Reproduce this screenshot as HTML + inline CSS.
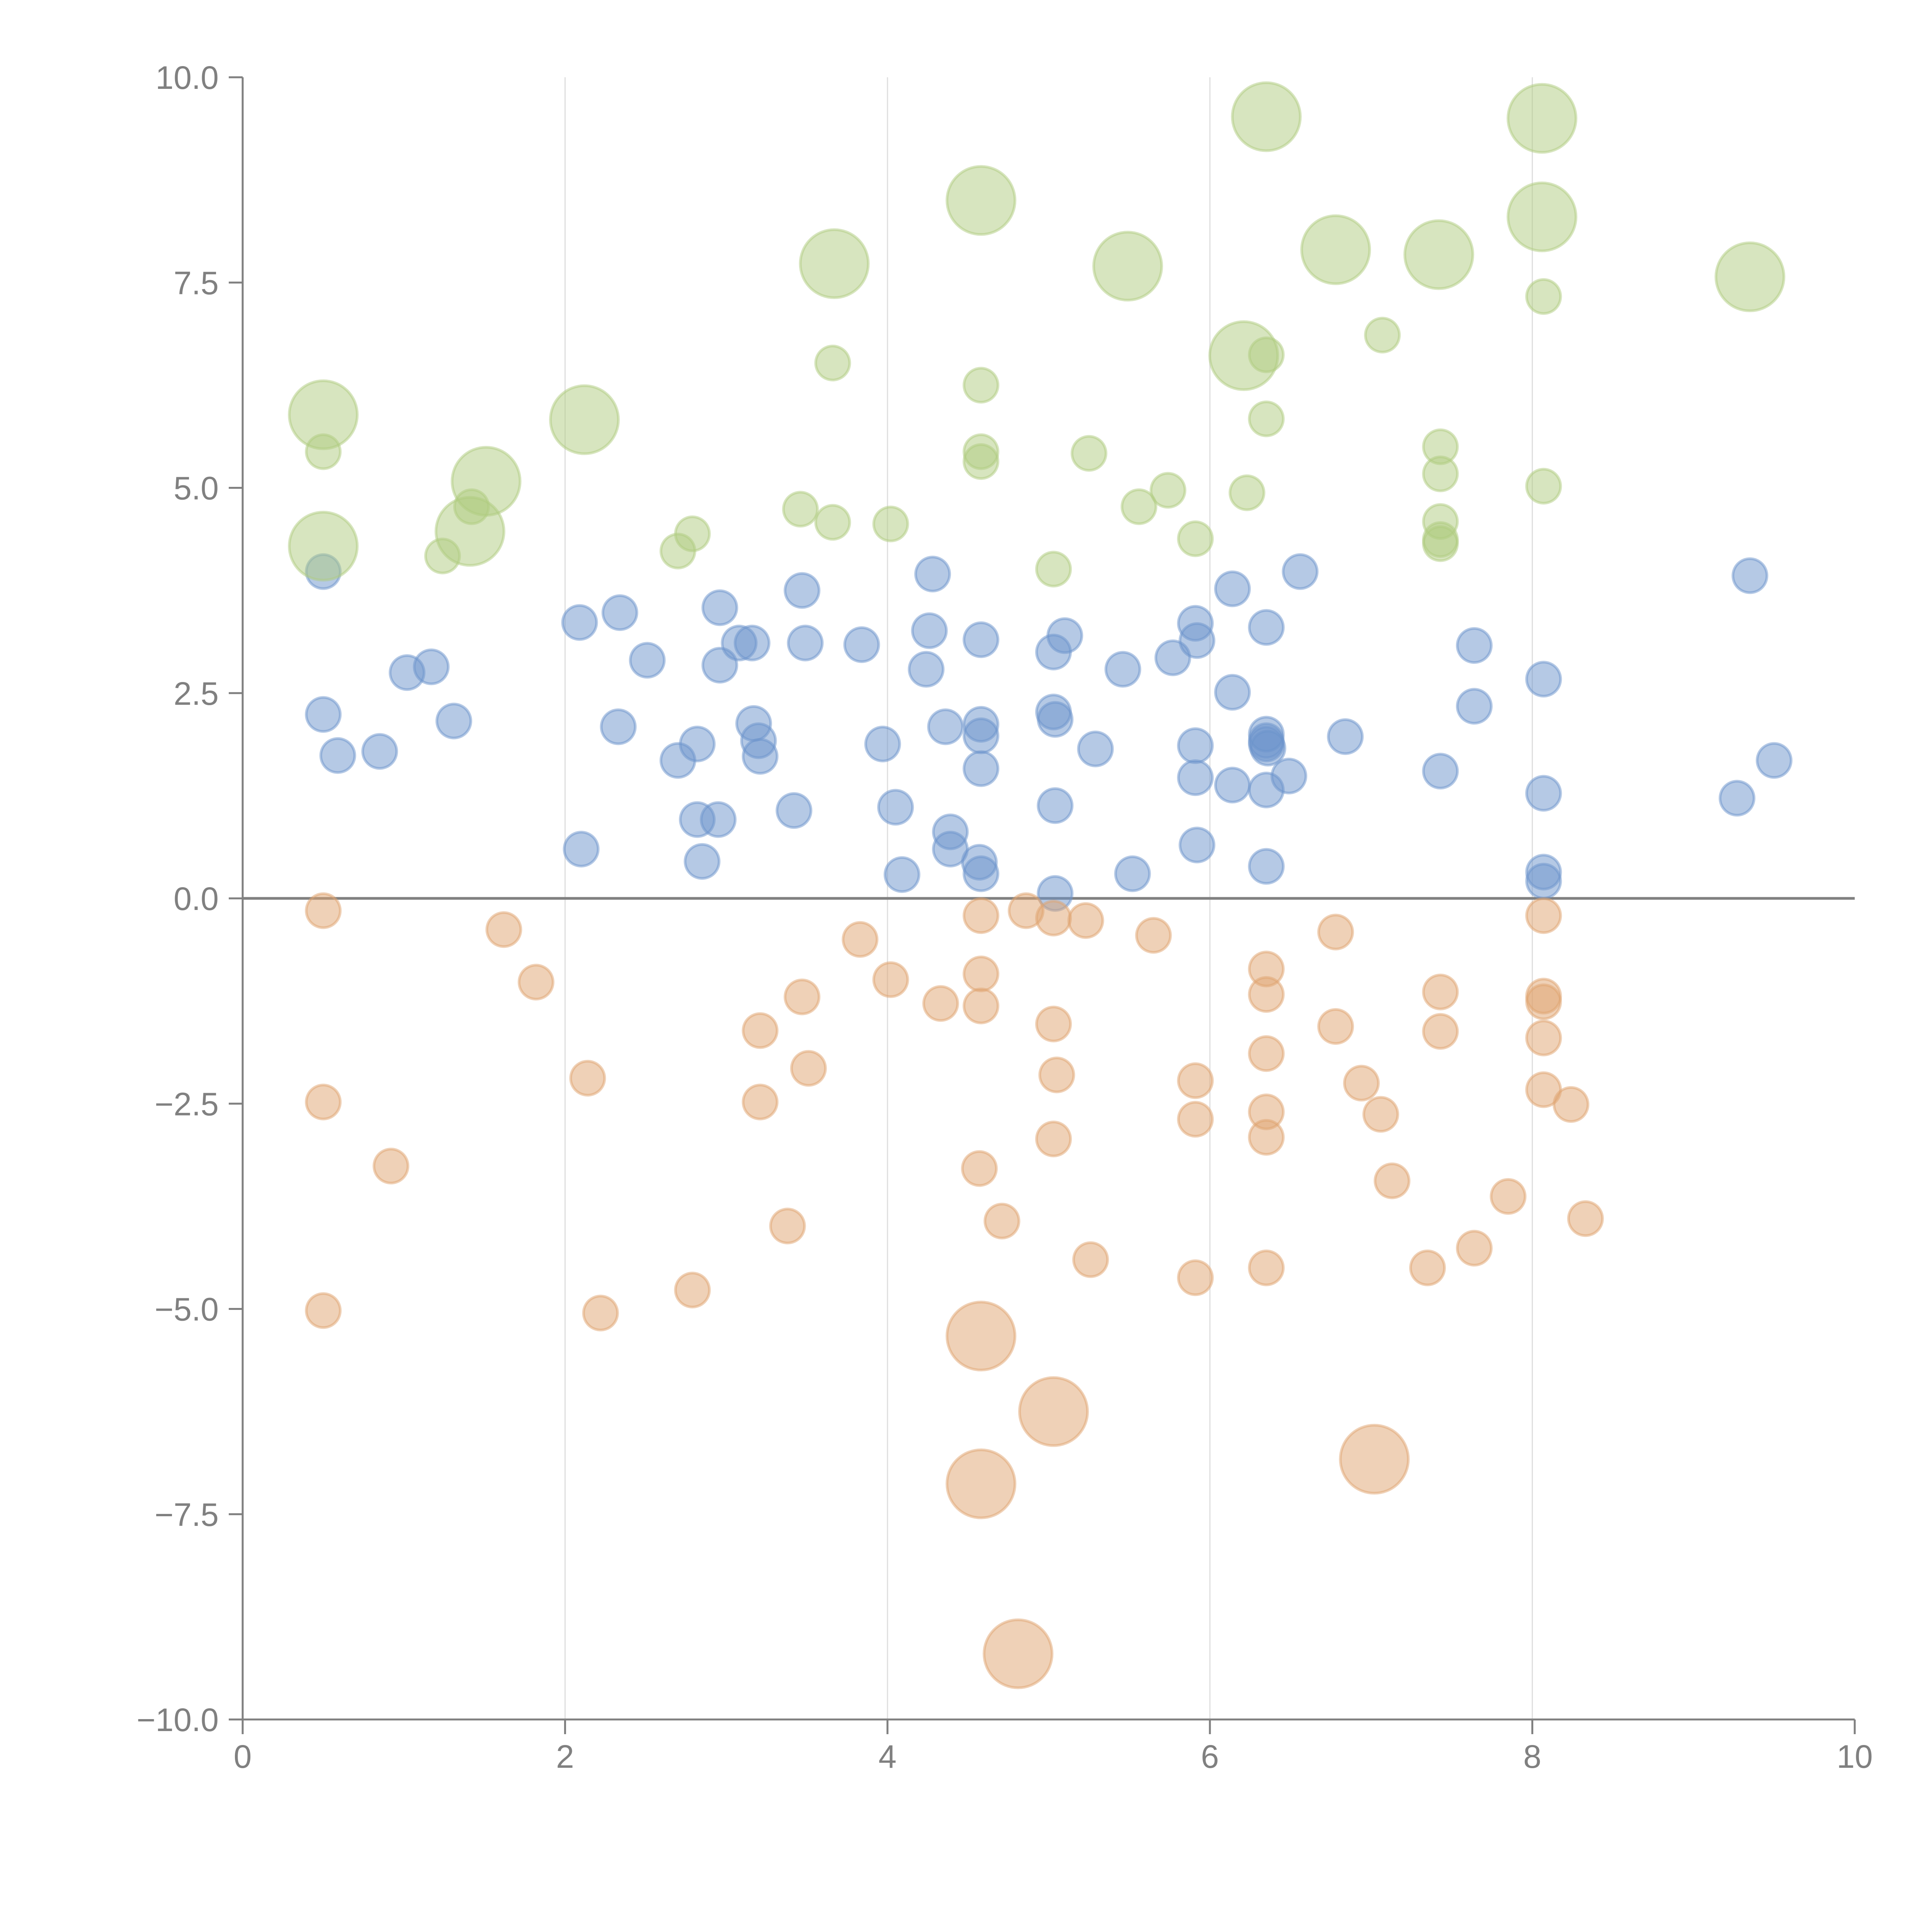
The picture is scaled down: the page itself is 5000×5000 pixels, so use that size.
<!DOCTYPE html>
<html><head><meta charset="utf-8"><style>html,body{margin:0;padding:0;background:#fff}svg{display:block}</style></head>
<body>
<svg id="chart" width="5000" height="5000" viewBox="0 0 5000 5000" xmlns="http://www.w3.org/2000/svg">
<g id="grid"></g>
<g id="marks"></g>
<g id="axes"></g>
</svg>
<script>
const xTicks=[0,2,4,6,8,10];
const xTickLabels=["0","2","4","6","8","10"];
const yTicks=[-10,-7.5,-5,-2.5,0,2.5,5,7.5,10];
const yTickLabels=["\u221210.0","\u22127.5","\u22125.0","\u22122.5","0.0","2.5","5.0","7.5","10.0"];
const greenLargeX=[0.50,0.50,1.51,1.41,2.12,3.67,4.58,5.49,6.21,6.35,6.78,7.42,8.06,8.06,9.35];
const greenLargeY=[5.89,4.29,5.08,4.47,5.83,7.73,8.50,7.70,6.61,9.52,7.90,7.84,9.50,8.30,7.57];
const greenSmallX=[0.50,1.42,1.24,2.79,2.70,3.46,3.66,3.66,4.02,4.58,4.58,4.58,5.25,5.03,5.56,5.74,5.91,6.23,6.35,6.35,7.07,7.43,7.43,7.43,7.43,7.43,8.07,8.07];
const greenSmallY=[5.44,4.77,4.17,4.44,4.23,4.74,4.58,6.52,4.56,6.25,5.44,5.32,5.42,4.01,4.77,4.97,4.38,4.94,6.62,5.84,6.86,5.50,5.17,4.59,4.37,4.32,7.33,5.02];
const blueX=[0.50,0.50,0.59,0.85,1.02,1.17,1.31,2.09,2.10,2.34,2.33,2.51,2.70,2.82,2.82,2.85,2.95,2.96,2.96,3.08,3.16,3.17,3.20,3.21,3.42,3.47,3.49,3.84,3.97,4.05,4.09,4.24,4.26,4.28,4.36,4.39,4.39,4.57,4.58,4.58,4.58,4.58,4.58,5.03,5.03,5.04,5.04,5.04,5.10,5.29,5.46,5.52,5.77,5.91,5.92,5.91,5.91,5.92,6.14,6.14,6.14,6.35,6.35,6.35,6.35,6.36,6.35,6.35,6.49,6.56,6.84,7.43,7.64,7.64,8.07,8.07,8.07,8.07,9.27,9.35,9.50];
const blueY=[3.98,2.24,1.74,1.79,2.75,2.82,2.16,3.36,0.60,3.48,2.09,2.90,1.68,1.88,0.96,0.45,0.96,3.54,2.84,3.11,3.11,2.13,1.92,1.73,1.07,3.75,3.11,3.09,1.88,1.11,0.29,2.79,3.26,3.95,2.09,0.81,0.60,0.44,2.12,1.98,3.15,1.58,0.30,3.00,2.27,2.18,1.13,0.06,3.20,1.82,2.79,0.30,2.93,3.35,3.14,1.86,1.47,0.65,3.77,2.51,1.38,3.30,2.00,1.92,1.88,1.83,1.32,0.39,1.49,3.98,1.97,1.55,3.08,2.34,2.67,1.28,0.32,0.21,1.22,3.93,1.68];
const orangeSmallX=[0.50,0.50,0.92,0.50,1.62,1.82,2.14,2.22,2.79,3.21,3.21,3.47,3.51,3.38,3.83,4.02,4.33,4.58,4.58,4.58,4.57,4.71,4.86,5.03,5.03,5.05,5.03,5.23,5.26,5.65,5.91,5.91,5.91,6.35,6.35,6.35,6.35,6.35,6.35,6.78,6.78,6.94,7.06,7.13,7.35,7.43,7.43,7.64,7.85,8.07,8.07,8.07,8.07,8.07,8.24,8.33];
const orangeSmallY=[-0.15,-2.48,-3.26,-5.02,-0.38,-1.02,-2.19,-5.05,-4.77,-1.61,-2.48,-1.20,-2.07,-3.99,-0.50,-0.99,-1.28,-0.21,-0.92,-1.31,-3.29,-3.93,-0.15,-0.24,-1.53,-2.15,-2.93,-0.27,-4.40,-0.45,-2.22,-2.69,-4.62,-0.86,-1.17,-1.89,-2.60,-2.91,-4.50,-0.41,-1.56,-2.25,-2.63,-3.44,-4.50,-1.14,-1.62,-4.26,-3.63,-0.21,-1.19,-1.26,-1.70,-2.33,-2.51,-3.90];
const orangeLargeX=[4.58,5.03,4.58,7.02,4.81];
const orangeLargeY=[-5.33,-6.25,-7.13,-6.83,-9.20];

const X0=628,X1=4800,Y0=4450,Y1=200;
function sx(v){return X0+(v-0)/(10-0)*(X1-X0);}
function sy(v){return Y0-(v+10)/20*(Y0-Y1);}
const NS="http://www.w3.org/2000/svg";
function mk(tag,attrs,parent){const e=document.createElementNS(NS,tag);for(const k in attrs)e.setAttribute(k,attrs[k]);parent.appendChild(e);return e;}
const grid=document.getElementById('grid'),marks=document.getElementById('marks'),axes=document.getElementById('axes');
xTicks.forEach((t,i)=>{if(t===0||t===10)return;
 const l=mk('line',{x1:sx(t),x2:sx(t),y1:Y1,y2:Y0,stroke:'#dedede','stroke-width':3},grid);
 
 });
const z=mk('line',{x1:X0,x2:X1,y1:sy(0),y2:sy(0),stroke:'#808080','stroke-width':7},grid);


function series(xs,ys,r,color,name){
 xs.forEach((x,i)=>{const c=mk('circle',{cx:sx(x),cy:sy(ys[i]),r:r,fill:color,'fill-opacity':0.5,stroke:color,'stroke-opacity':0.5,'stroke-width':7},marks);
 
 });
}
series(blueX,blueY,44,'#6b93cb','blue-point');
series(orangeSmallX,orangeSmallY,44,'#e0a46f','orange-point');
series(orangeLargeX,orangeLargeY,88,'#e0a46f','orange-bubble');
series(greenSmallX,greenSmallY,44,'#b0cc80','green-point');
series(greenLargeX,greenLargeY,88,'#b0cc80','green-bubble');
const ya=mk('line',{x1:X0,x2:X0,y1:Y1,y2:Y0,stroke:'#808080','stroke-width':5},axes);


const xa=mk('line',{x1:X0,x2:X1,y1:Y0,y2:Y0,stroke:'#808080','stroke-width':5},axes);


xTicks.forEach((t,i)=>{
 const tk=mk('line',{x1:sx(t),x2:sx(t),y1:Y0,y2:Y0+38,stroke:'#808080','stroke-width':5},axes);
 
 
 const tx=mk('text',{x:sx(t),y:Y0+125,'text-anchor':'middle','font-family':'Liberation Sans, sans-serif','font-size':84,fill:'#808080'},axes);
 tx.textContent=xTickLabels[i];
 
 });
yTicks.forEach((t,i)=>{
 const tk=mk('line',{x1:X0-36,x2:X0,y1:sy(t),y2:sy(t),stroke:'#808080','stroke-width':5},axes);
 
 
 const tx=mk('text',{x:X0-62,y:sy(t)+30,'text-anchor':'end','font-family':'Liberation Sans, sans-serif','font-size':84,fill:'#808080'},axes);
 tx.textContent=yTickLabels[i];
 
 });
</script>
</body></html>
